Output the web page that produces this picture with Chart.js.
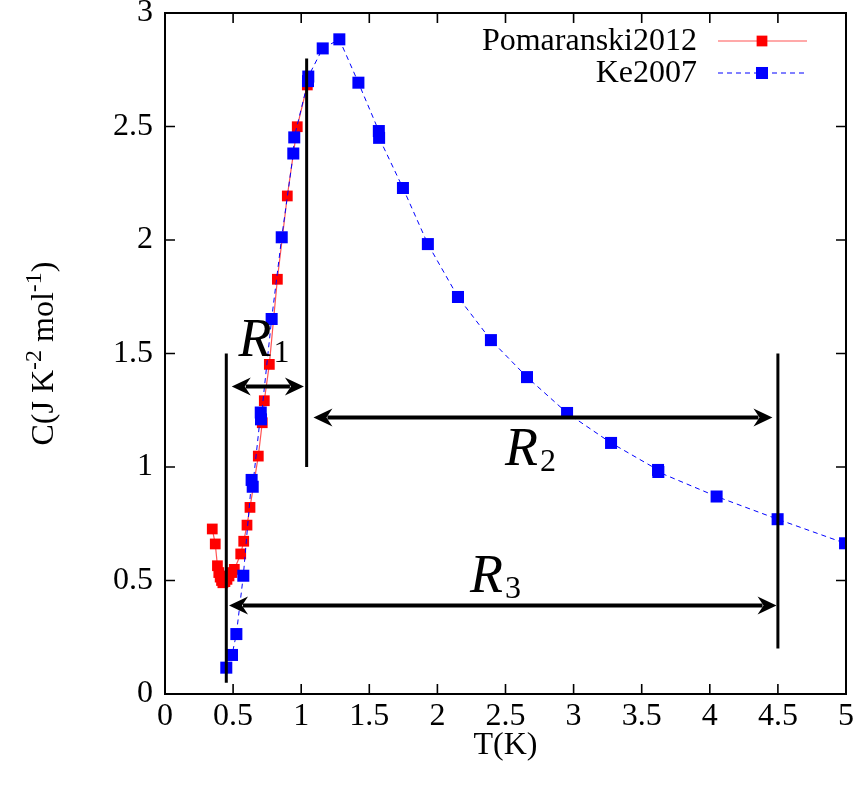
<!DOCTYPE html>
<html>
<head>
<meta charset="utf-8">
<script src="https://cdn.jsdelivr.net/npm/chart.js@4.4.1/dist/chart.umd.min.js"></script>
<style>
  html, body { margin: 0; padding: 0; background: #fff; }
  #wrap { width: 860px; height: 796px; }
</style>
</head>
<body>
<div id="wrap"><canvas id="heatCapacity"></canvas></div>
<script>
// Specific heat C/T data, T in K, C in J K^-2 mol^-1
const pomaranskiT = [0.347, 0.369, 0.385, 0.395, 0.405, 0.415, 0.425, 0.44, 0.455, 0.47, 0.49, 0.509,
    0.556, 0.578, 0.602, 0.624, 0.685, 0.714, 0.729, 0.766, 0.825, 0.898, 0.971, 1.045];
const pomaranskiC = [0.727, 0.661, 0.565, 0.535, 0.515, 0.50, 0.49, 0.495, 0.505, 0.52, 0.535, 0.549,
    0.617, 0.673, 0.744, 0.822, 1.048, 1.195, 1.292, 1.452, 1.827, 2.194, 2.499, 2.683];

const keT = [0.45, 0.492, 0.524, 0.575, 0.636, 0.644, 0.703, 0.705, 0.783, 0.857, 0.942, 0.949, 1.05, 1.052,
    1.158, 1.28, 1.42, 1.57, 1.572, 1.747, 1.93, 2.151, 2.393, 2.658, 2.952, 3.275, 3.62, 3.622, 4.05, 4.498, 4.993];
const keC = [0.116, 0.172, 0.264, 0.521, 0.943, 0.913, 1.24, 1.21, 1.652, 2.012, 2.381, 2.452, 2.70, 2.72,
    2.844, 2.884, 2.693, 2.48, 2.45, 2.229, 1.982, 1.749, 1.559, 1.396, 1.238, 1.106, 0.987, 0.978, 0.87, 0.77, 0.664];

const xTicks = [0, 0.5, 1, 1.5, 2, 2.5, 3, 3.5, 4, 4.5, 5];
const yTicks = [0, 0.5, 1, 1.5, 2, 2.5, 3];

// vertical bars bounding the fit ranges
const barT = [0.45, 1.04, 4.5];
const barLow = [0.05, 1.0, 0.2];
const barHigh = [1.5, 2.8, 1.5];

// double headed arrows R1, R2, R3
const rangeNames = ['1', '2', '3'];
const arrowFrom = [0.49, 1.09, 0.47];
const arrowTo = [1.02, 4.46, 4.49];
const arrowC = [1.355, 1.218, 0.39];
const labelT = [0.54, 2.496, 2.239];
const labelC = [1.49, 1.009, 0.449];

const SERIF = '"Liberation Serif", "Times New Roman", serif';

function toPoints(xs, ys) {
    return xs.map((t, i) => ({x: t, y: ys[i]}));
}

function drawArrowHead(ctx, x, y, dir) {
    // filled head with a notched back, dir = +1 points right
    ctx.beginPath();
    ctx.moveTo(x, y);
    ctx.lineTo(x - dir * 19, y - 9);
    ctx.lineTo(x - dir * 13, y);
    ctx.lineTo(x - dir * 19, y + 9);
    ctx.closePath();
    ctx.fill();
}

const overlay = {
    id: 'overlay',
    afterDatasetsDraw(chart) {
        const {ctx, chartArea: a, scales: {x, y}} = chart;
        ctx.save();

        // frame with inward ticks on all sides
        ctx.strokeStyle = '#000';
        ctx.lineWidth = 2;
        ctx.strokeRect(a.left, a.top, a.right - a.left, a.bottom - a.top);
        ctx.lineWidth = 1.6;
        ctx.beginPath();
        xTicks.forEach(v => {
            const px = x.getPixelForValue(v);
            ctx.moveTo(px, a.bottom); ctx.lineTo(px, a.bottom - 10);
            ctx.moveTo(px, a.top); ctx.lineTo(px, a.top + 10);
        });
        yTicks.forEach(v => {
            const py = y.getPixelForValue(v);
            ctx.moveTo(a.left, py); ctx.lineTo(a.left + 10, py);
            ctx.moveTo(a.right, py); ctx.lineTo(a.right - 10, py);
        });
        ctx.stroke();

        // range bars
        ctx.lineWidth = 3;
        ctx.beginPath();
        barT.forEach((t, i) => {
            const px = x.getPixelForValue(t);
            ctx.moveTo(px, y.getPixelForValue(barLow[i]));
            ctx.lineTo(px, y.getPixelForValue(barHigh[i]));
        });
        ctx.stroke();

        // arrows
        ctx.fillStyle = '#000';
        ctx.lineWidth = 4;
        rangeNames.forEach((name, i) => {
            const x0 = x.getPixelForValue(arrowFrom[i]);
            const x1 = x.getPixelForValue(arrowTo[i]);
            const py = y.getPixelForValue(arrowC[i]);
            ctx.beginPath();
            ctx.moveTo(x0 + 14, py);
            ctx.lineTo(x1 - 14, py);
            ctx.stroke();
            drawArrowHead(ctx, x0, py, -1);
            drawArrowHead(ctx, x1, py, 1);

            // label R with subscript
            const lx = x.getPixelForValue(labelT[i]);
            const ly = y.getPixelForValue(labelC[i]);
            ctx.textAlign = 'left';
            ctx.textBaseline = 'alphabetic';
            ctx.font = 'italic 54px ' + SERIF;
            ctx.fillText('R', lx, ly);
            const rw = ctx.measureText('R').width;
            ctx.font = '32px ' + SERIF;
            ctx.fillText(name, lx + rw + 2, ly + 6);
        });

        // key in the upper right corner
        const series = chart.data.datasets;
        const keyOrder = [1, 0];
        ctx.font = '32px ' + SERIF;
        ctx.textAlign = 'right';
        ctx.textBaseline = 'middle';
        keyOrder.forEach((di, row) => {
            const ds = series[di];
            const ky = a.top + 28 + row * 32;
            const tx = a.right - 149;
            ctx.fillStyle = '#000';
            ctx.fillText(ds.label, tx, ky + 1);
            ctx.strokeStyle = ds.borderColor;
            ctx.lineWidth = ds.borderWidth;
            ctx.setLineDash(ds.borderDash || []);
            ctx.beginPath();
            ctx.moveTo(a.right - 128, ky);
            ctx.lineTo(a.right - 39, ky);
            ctx.stroke();
            ctx.setLineDash([]);
            const s = ds.pointRadius * Math.SQRT1_2;
            ctx.fillStyle = ds.pointBackgroundColor;
            ctx.fillRect(a.right - 84 - s, ky - s, 2 * s, 2 * s);
        });

        ctx.restore();
    },
    afterDraw(chart) {
        // y axis title with superscripts, rotated
        const {ctx, chartArea: a} = chart;
        const parts = [['C(J K', 0], ['-2', 1], [' mol', 0], ['-1', 1], [')', 0]];
        const big = '32px ' + SERIF;
        const small = '24px ' + SERIF;
        ctx.save();
        let w = 0;
        parts.forEach(([txt, sup]) => {
            ctx.font = sup ? small : big;
            w += ctx.measureText(txt).width;
        });
        ctx.translate(42, (a.top + a.bottom) / 2);
        ctx.rotate(-Math.PI / 2);
        ctx.fillStyle = '#000';
        ctx.textAlign = 'left';
        ctx.textBaseline = 'alphabetic';
        let cx = -w / 2;
        parts.forEach(([txt, sup]) => {
            ctx.font = sup ? small : big;
            ctx.fillText(txt, cx, sup ? -1 : 11);
            cx += ctx.measureText(txt).width;
        });
        ctx.restore();
    }
};

new Chart(document.getElementById('heatCapacity'), {
    type: 'scatter',
    data: {
        datasets: [
            {
                label: 'Ke2007',
                data: toPoints(keT, keC),
                showLine: true,
                borderColor: '#0000ff',
                borderWidth: 1,
                borderDash: [5, 4],
                pointStyle: 'rect',
                pointRadius: 8.5,
                pointBackgroundColor: '#0000ff',
                pointBorderWidth: 0,
                order: 0,
            },
            {
                label: 'Pomaranski2012',
                data: toPoints(pomaranskiT, pomaranskiC),
                showLine: true,
                borderColor: 'rgba(255, 40, 40, 0.8)',
                borderWidth: 1.2,
                pointStyle: 'rect',
                pointRadius: 7.6,
                pointBackgroundColor: '#ff0000',
                pointBorderWidth: 0,
                order: 1,
            },
        ],
    },
    options: {
        responsive: true,
        maintainAspectRatio: false,
        animation: false,
        layout: { padding: { top: 13, right: 14, left: 0, bottom: 0 } },
        plugins: {
            legend: { display: false },
            tooltip: { enabled: false },
        },
        scales: {
            x: {
                type: 'linear',
                min: 0,
                max: 5,
                afterBuildTicks: s => { s.ticks = xTicks.map(v => ({value: v})); },
                afterFit: s => {
                    s.height = 102;
                    s.paddingLeft = 0;
                    s.paddingRight = 0;
                },
                ticks: {
                    callback: v => String(v),
                    color: '#000',
                    font: { family: SERIF, size: 32 },
                    padding: 3,
                    maxRotation: 0,
                    autoSkip: false,
                },
                grid: { display: false, drawTicks: false },
                border: { display: false },
                title: {
                    display: true,
                    text: 'T(K)',
                    color: '#000',
                    font: { family: SERIF, size: 32 },
                    padding: { top: 0, bottom: 31 },
                },
            },
            y: {
                type: 'linear',
                min: 0,
                max: 3,
                afterBuildTicks: s => { s.ticks = yTicks.map(v => ({value: v})); },
                afterFit: s => {
                    s.width = 165;
                    s.paddingTop = 0;
                    s.paddingBottom = 0;
                },
                ticks: {
                    callback: v => String(v),
                    color: '#000',
                    font: { family: SERIF, size: 32 },
                    padding: 12,
                },
                grid: { display: false, drawTicks: false },
                border: { display: false },
            },
        },
    },
    plugins: [overlay],
});
</script>
</body>
</html>
